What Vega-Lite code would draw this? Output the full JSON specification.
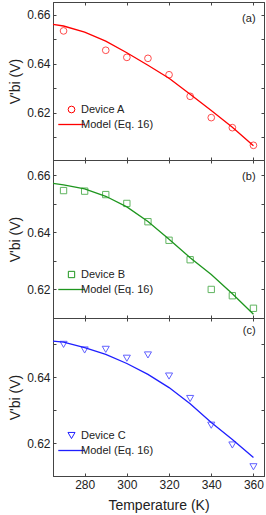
{
  "$schema": "https://vega.github.io/schema/vega-lite/v6.json",
  "padding": {"left": 8, "top": 1, "right": 2, "bottom": 2},
  "spacing": 0,
  "bounds": "flush",
  "config": {
    "font": "Liberation Sans",
    "view": {"stroke": "#444", "strokeWidth": 1},
    "axis": {"grid": false, "domainColor": "#444", "tickColor": "#444", "tickSize": -3, "labelPadding": 6, "labelFontSize": 12, "labelColor": "#222", "titleFontSize": 14, "titleFontWeight": "normal", "titleColor": "#222"},
    "legend": {"labelFontSize": 11, "labelColor": "#222", "rowPadding": 3, "labelOffset": 4}
  },
  "datasets": {
    "a_pts": [
      {"T": 270, "V": 0.6535, "series": "Device A"},
      {"T": 290, "V": 0.6456, "series": "Device A"},
      {"T": 300, "V": 0.6427, "series": "Device A"},
      {"T": 310, "V": 0.6423, "series": "Device A"},
      {"T": 320, "V": 0.6356, "series": "Device A"},
      {"T": 330, "V": 0.6268, "series": "Device A"},
      {"T": 340, "V": 0.6181, "series": "Device A"},
      {"T": 350, "V": 0.6140, "series": "Device A"},
      {"T": 360, "V": 0.6068, "series": "Device A"}
    ],
    "a_fit": [
      {"T": 265, "V": 0.6562, "series": "Model (Eq. 16)"},
      {"T": 270, "V": 0.6555, "series": "Model (Eq. 16)"},
      {"T": 280, "V": 0.6530, "series": "Model (Eq. 16)"},
      {"T": 290, "V": 0.6493, "series": "Model (Eq. 16)"},
      {"T": 300, "V": 0.6446, "series": "Model (Eq. 16)"},
      {"T": 310, "V": 0.6395, "series": "Model (Eq. 16)"},
      {"T": 320, "V": 0.6342, "series": "Model (Eq. 16)"},
      {"T": 330, "V": 0.6276, "series": "Model (Eq. 16)"},
      {"T": 340, "V": 0.6210, "series": "Model (Eq. 16)"},
      {"T": 350, "V": 0.6142, "series": "Model (Eq. 16)"},
      {"T": 360, "V": 0.6066, "series": "Model (Eq. 16)"}
    ],
    "b_pts": [
      {"T": 270, "V": 0.6546, "series": "Device B"},
      {"T": 280, "V": 0.6544, "series": "Device B"},
      {"T": 290, "V": 0.6532, "series": "Device B"},
      {"T": 300, "V": 0.6501, "series": "Device B"},
      {"T": 310, "V": 0.6437, "series": "Device B"},
      {"T": 320, "V": 0.6372, "series": "Device B"},
      {"T": 330, "V": 0.6304, "series": "Device B"},
      {"T": 340, "V": 0.6200, "series": "Device B"},
      {"T": 350, "V": 0.6178, "series": "Device B"},
      {"T": 360, "V": 0.6134, "series": "Device B"}
    ],
    "b_fit": [
      {"T": 265, "V": 0.6571, "series": "Model (Eq. 16)"},
      {"T": 270, "V": 0.6566, "series": "Model (Eq. 16)"},
      {"T": 280, "V": 0.6552, "series": "Model (Eq. 16)"},
      {"T": 290, "V": 0.6526, "series": "Model (Eq. 16)"},
      {"T": 300, "V": 0.6489, "series": "Model (Eq. 16)"},
      {"T": 310, "V": 0.6438, "series": "Model (Eq. 16)"},
      {"T": 320, "V": 0.6376, "series": "Model (Eq. 16)"},
      {"T": 330, "V": 0.6311, "series": "Model (Eq. 16)"},
      {"T": 340, "V": 0.6252, "series": "Model (Eq. 16)"},
      {"T": 350, "V": 0.6185, "series": "Model (Eq. 16)"},
      {"T": 360, "V": 0.6113, "series": "Model (Eq. 16)"}
    ],
    "c_pts": [
      {"T": 270, "V": 0.6499, "series": "Device C"},
      {"T": 280, "V": 0.6482, "series": "Device C"},
      {"T": 290, "V": 0.6484, "series": "Device C"},
      {"T": 300, "V": 0.6457, "series": "Device C"},
      {"T": 310, "V": 0.6467, "series": "Device C"},
      {"T": 320, "V": 0.6403, "series": "Device C"},
      {"T": 330, "V": 0.6335, "series": "Device C"},
      {"T": 340, "V": 0.6254, "series": "Device C"},
      {"T": 350, "V": 0.6194, "series": "Device C"},
      {"T": 360, "V": 0.6128, "series": "Device C"}
    ],
    "c_fit": [
      {"T": 265, "V": 0.6509, "series": "Model (Eq. 16)"},
      {"T": 270, "V": 0.6506, "series": "Model (Eq. 16)"},
      {"T": 280, "V": 0.6489, "series": "Model (Eq. 16)"},
      {"T": 290, "V": 0.6469, "series": "Model (Eq. 16)"},
      {"T": 300, "V": 0.6441, "series": "Model (Eq. 16)"},
      {"T": 310, "V": 0.6408, "series": "Model (Eq. 16)"},
      {"T": 320, "V": 0.6368, "series": "Model (Eq. 16)"},
      {"T": 330, "V": 0.6319, "series": "Model (Eq. 16)"},
      {"T": 340, "V": 0.6262, "series": "Model (Eq. 16)"},
      {"T": 350, "V": 0.6211, "series": "Model (Eq. 16)"},
      {"T": 360, "V": 0.6156, "series": "Model (Eq. 16)"}
    ]
  },
  "resolve": {"scale": {"color": "independent", "shape": "independent", "x": "independent", "y": "independent"}},
  "vconcat": [
    {
      "width": 211, "height": 158,
      "resolve": {"axis": {"x": "independent", "y": "independent"}},
      "layer": [
        {
          "data": {"name": "a_fit"},
          "mark": {"type": "line", "strokeWidth": 1.3},
          "encoding": {
            "x": {"field": "T", "type": "quantitative", "scale": {"domain": [265, 365], "nice": false}, "axis": {"orient": "top", "labels": false, "title": null, "values": [280, 300, 320, 340, 360]}},
            "y": {"field": "V", "type": "quantitative", "scale": {"domain": [0.6008, 0.6653], "nice": false, "zero": false}, "axis": {"orient": "right", "labels": false, "title": null, "values": [0.61, 0.62, 0.63, 0.64, 0.65, 0.66]}},
            "color": {"field": "series", "type": "nominal", "scale": {"domain": ["Device A", "Model (Eq. 16)"], "range": ["#ff0000", "#ff0000"]}, "legend": {"orient": "none", "legendX": 13, "legendY": 102, "title": null, "encode": {"symbols": {"update": {"size": {"signal": "datum.value === 'Model (Eq. 16)' ? 700 : 45"}, "strokeWidth": {"signal": "datum.value === 'Model (Eq. 16)' ? 1.3 : 1"}}}}}}
          }
        },
        {
          "data": {"name": "a_pts"},
          "mark": {"type": "point", "filled": false, "size": 45, "strokeWidth": 1},
          "encoding": {
            "x": {"field": "T", "type": "quantitative", "axis": {"orient": "bottom", "labels": false, "title": null, "values": [280, 300, 320, 340, 360]}},
            "y": {"field": "V", "type": "quantitative", "axis": {"orient": "left", "title": "V'bi (V)", "values": [0.61, 0.62, 0.63, 0.64, 0.65, 0.66], "labelExpr": "round(datum.value*100) % 2 == 0 ? format(datum.value, '.2f') : ''"}},
            "color": {"field": "series", "type": "nominal"},
            "shape": {"field": "series", "type": "nominal", "scale": {"domain": ["Device A", "Model (Eq. 16)"], "range": ["circle", "stroke"]}}
          }
        },
        {
          "data": {"values": [{"label": "(a)"}]},
          "mark": {"type": "text", "align": "right", "baseline": "middle", "fontSize": 11, "color": "#222"},
          "encoding": {
            "x": {"datum": 361, "type": "quantitative", "axis": null},
            "y": {"datum": 0.6584, "type": "quantitative", "axis": null},
            "text": {"field": "label"}
          }
        }
      ]
    },
    {
      "width": 211, "height": 158,
      "resolve": {"axis": {"x": "independent", "y": "independent"}},
      "layer": [
        {
          "data": {"name": "b_fit"},
          "mark": {"type": "line", "strokeWidth": 1.3},
          "encoding": {
            "x": {"field": "T", "type": "quantitative", "scale": {"domain": [265, 365], "nice": false}, "axis": {"orient": "top", "labels": false, "title": null, "values": [280, 300, 320, 340, 360]}},
            "y": {"field": "V", "type": "quantitative", "scale": {"domain": [0.61, 0.6653], "nice": false, "zero": false}, "axis": {"orient": "right", "labels": false, "title": null, "values": [0.61, 0.62, 0.63, 0.64, 0.65, 0.66]}},
            "color": {"field": "series", "type": "nominal", "scale": {"domain": ["Device B", "Model (Eq. 16)"], "range": ["#1e961e", "#1e961e"]}, "legend": {"orient": "none", "legendX": 13, "legendY": 109, "title": null, "encode": {"symbols": {"update": {"size": {"signal": "datum.value === 'Model (Eq. 16)' ? 700 : 40"}, "strokeWidth": {"signal": "datum.value === 'Model (Eq. 16)' ? 1.3 : 1"}}}}}}
          }
        },
        {
          "data": {"name": "b_pts"},
          "mark": {"type": "point", "filled": false, "size": 40, "strokeWidth": 1},
          "encoding": {
            "x": {"field": "T", "type": "quantitative", "axis": {"orient": "bottom", "labels": false, "title": null, "values": [280, 300, 320, 340, 360]}},
            "y": {"field": "V", "type": "quantitative", "axis": {"orient": "left", "title": "V'bi (V)", "values": [0.61, 0.62, 0.63, 0.64, 0.65, 0.66], "labelExpr": "round(datum.value*100) % 2 == 0 ? format(datum.value, '.2f') : ''"}},
            "color": {"field": "series", "type": "nominal"},
            "shape": {"field": "series", "type": "nominal", "scale": {"domain": ["Device B", "Model (Eq. 16)"], "range": ["square", "stroke"]}}
          }
        },
        {
          "data": {"values": [{"label": "(b)"}]},
          "mark": {"type": "text", "align": "right", "baseline": "middle", "fontSize": 11, "color": "#222"},
          "encoding": {
            "x": {"datum": 361, "type": "quantitative", "axis": null},
            "y": {"datum": 0.6594, "type": "quantitative", "axis": null},
            "text": {"field": "label"}
          }
        }
      ]
    },
    {
      "width": 211, "height": 158,
      "resolve": {"axis": {"x": "independent", "y": "independent"}},
      "layer": [
        {
          "data": {"name": "c_fit"},
          "mark": {"type": "line", "strokeWidth": 1.3},
          "encoding": {
            "x": {"field": "T", "type": "quantitative", "scale": {"domain": [265, 365], "nice": false}, "axis": {"orient": "top", "labels": false, "title": null, "values": [280, 300, 320, 340, 360]}},
            "y": {"field": "V", "type": "quantitative", "scale": {"domain": [0.61, 0.6579], "nice": false, "zero": false}, "axis": {"orient": "right", "labels": false, "title": null, "values": [0.61, 0.62, 0.63, 0.64, 0.65]}},
            "color": {"field": "series", "type": "nominal", "scale": {"domain": ["Device C", "Model (Eq. 16)"], "range": ["#1f1fff", "#1f1fff"]}, "legend": {"orient": "none", "legendX": 13, "legendY": 112, "title": null, "encode": {"symbols": {"update": {"size": {"signal": "datum.value === 'Model (Eq. 16)' ? 700 : 50"}, "strokeWidth": {"signal": "datum.value === 'Model (Eq. 16)' ? 1.3 : 1"}}}}}}
          }
        },
        {
          "data": {"name": "c_pts"},
          "mark": {"type": "point", "filled": false, "size": 50, "strokeWidth": 1},
          "encoding": {
            "x": {"field": "T", "type": "quantitative", "axis": {"orient": "bottom", "title": "Temperature (K)", "titlePadding": 8, "values": [280, 300, 320, 340, 360]}},
            "y": {"field": "V", "type": "quantitative", "axis": {"orient": "left", "title": "V'bi (V)", "values": [0.61, 0.62, 0.63, 0.64, 0.65], "labelExpr": "round(datum.value*100) % 2 == 0 ? format(datum.value, '.2f') : ''"}},
            "color": {"field": "series", "type": "nominal"},
            "shape": {"field": "series", "type": "nominal", "scale": {"domain": ["Device C", "Model (Eq. 16)"], "range": ["triangle-down", "stroke"]}}
          }
        },
        {
          "data": {"values": [{"label": "(c)"}]},
          "mark": {"type": "text", "align": "right", "baseline": "middle", "fontSize": 11, "color": "#222"},
          "encoding": {
            "x": {"datum": 361, "type": "quantitative", "axis": null},
            "y": {"datum": 0.6539, "type": "quantitative", "axis": null},
            "text": {"field": "label"}
          }
        }
      ]
    }
  ]
}
